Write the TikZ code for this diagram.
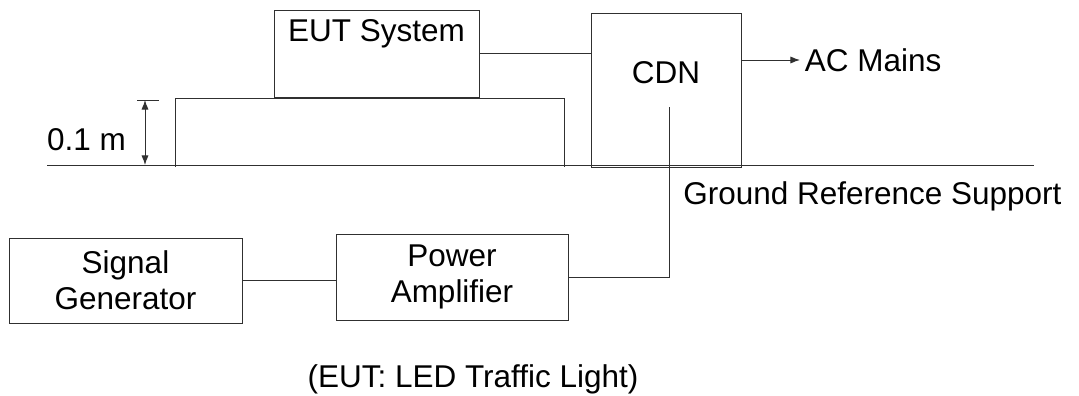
\documentclass[tikz,border=0pt]{standalone}
\usepackage{fontspec}
\setmainfont{Liberation Sans}
\usepackage{tikz}
\usetikzlibrary{positioning,arrows.meta}
\definecolor{linegray}{HTML}{303030}

\begin{document}
\begin{tikzpicture}[
  box/.style={
    draw=linegray, line width=0.7pt, inner sep=0pt, align=center,
    font=\fontsize{22.4}{25.6}\selectfont
  },
  txt/.style={
    font=\fontsize{22.4}{25.6}\selectfont
  },
  wire/.style={draw=linegray, line width=0.7pt}
]
\useasboundingbox (0,0) rectangle (26.975,9.9);

% Suelo y mesa
\draw[wire] (1.175,5.775) -- (25.85,5.775);
\draw[wire] (4.375,5.725) -- (4.375,7.45) -- (14.1,7.45) -- (14.1,5.725);

% Cajas
\node[box, minimum width=5.125cm, minimum height=2.175cm,
  label={[txt, anchor=north, inner sep=0.25cm]north:EUT System}] (eut) at (9.4125,8.5625) {};
\node[box, minimum width=3.75cm, minimum height=3.85cm,
  label={[txt, yshift=0.425cm]center:CDN}] (cdn) at (16.65,7.65) {};
\node[box, minimum width=5.825cm, minimum height=2.125cm] (sg) at (3.1375,2.8875) {Signal\\Generator};
\node[box, minimum width=5.8cm, minimum height=2.15cm] (pa) at (11.3,2.975) {Power\\Amplifier};

% Textos
\node[txt, anchor=west] (mains) at (20.0,8.4) {AC Mains};
\node[txt] (grs) at (21.8125,4.98) {Ground Reference Support};
\node[txt] (height) at (2.1625,6.4) {0.1 m};
\node[txt] (caption) at (11.825,0.42) {(EUT: LED Traffic Light)};

% Cota
\coordinate (cotatop) at (3.625,7.4);
\coordinate (cotabot) at (3.625,5.775);
\draw[wire] (3.425,7.4) -- (3.975,7.4);
\draw[wire, {Latex[length=2.4mm,width=1.8mm]}-{Latex[length=2.4mm,width=1.8mm]}] (cotatop) -- (cotabot);

% Conexiones
\coordinate (tap) at (16.725,7.225);
\draw[wire] (eut.east) -- (eut.east -| cdn.west);
\draw[wire, -{Latex[length=2.4mm,width=1.8mm]}] (cdn.east |- mains.west) -- (mains.west);
\draw[wire] (sg.east) -- (sg.east -| pa.west);
\draw[wire] (pa.east) -| (tap);
\end{tikzpicture}
\end{document}
